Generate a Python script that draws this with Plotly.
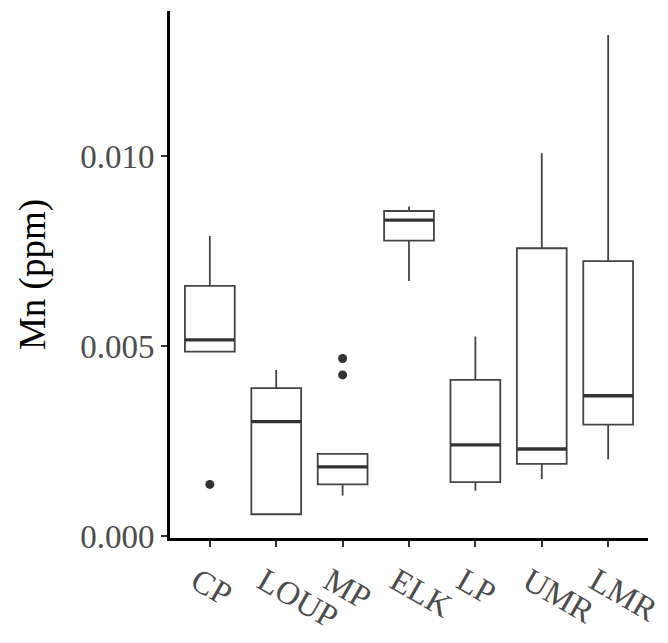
import plotly.graph_objects as go

# Mn concentration summaries per site (ppm)
sites = ["CP", "LOUP", "MP", "ELK", "LP", "UMR", "LMR"]
lower_whisker = [0.00486, 0.000585, 0.00108, 0.00672, 0.00120, 0.00151, 0.00203]
q1 = [0.00486, 0.000585, 0.00137, 0.00778, 0.00143, 0.00191, 0.00294]
median = [0.00517, 0.00302, 0.00183, 0.00832, 0.00241, 0.00230, 0.00370]
q3 = [0.00659, 0.00390, 0.00217, 0.00856, 0.00412, 0.00758, 0.00724]
upper_whisker = [0.00790, 0.00438, 0.00217, 0.00868, 0.00526, 0.01008, 0.01319]

# Outlying observations
outlier_site = ["CP", "MP", "MP"]
outlier_value = [0.00137, 0.00468, 0.00425]

BOX_W = 0.75
LINE = "#444444"
SERIF = "Liberation Serif, Times New Roman, serif"

fig = go.Figure()

for i, s in enumerate(sites):
    fig.add_trace(go.Box(
        x=[i], q1=[q1[i]], median=[median[i]], q3=[q3[i]],
        lowerfence=[lower_whisker[i]], upperfence=[upper_whisker[i]],
        width=BOX_W, whiskerwidth=0, boxpoints=False,
        fillcolor="white", line=dict(color=LINE, width=1.8),
        showlegend=False, hoverinfo="skip", name=s,
    ))

# Heavier median bars
mx, my = [], []
for i in range(len(sites)):
    mx += [i - BOX_W / 2, i + BOX_W / 2, None]
    my += [median[i], median[i], None]
fig.add_trace(go.Scatter(x=mx, y=my, mode="lines",
                         line=dict(color="#333333", width=3.4),
                         showlegend=False, hoverinfo="skip"))

fig.add_trace(go.Scatter(
    x=[sites.index(s) for s in outlier_site], y=outlier_value, mode="markers",
    marker=dict(color="#333333", size=9), showlegend=False, hoverinfo="skip"))

fig.update_layout(
    width=668, height=643,
    margin=dict(l=170, r=20, t=11, b=105),
    paper_bgcolor="white", plot_bgcolor="white",
    font=dict(family=SERIF, size=33, color="#4d4d4d"),
    xaxis=dict(
        range=[-0.6, 6.6], tickmode="array", tickvals=list(range(len(sites))),
        ticktext=sites, tickangle=30, showgrid=False, zeroline=False,
        showline=True, linecolor="black", linewidth=3,
        ticks="outside", ticklen=6, tickwidth=1.5, tickcolor="#333333",
        ticklabeloverflow="allow", automargin=False,
        ticklabelshift=-13, ticklabelstandoff=2,
        tickfont=dict(family=SERIF, size=33, color="#4d4d4d"),
    ),
    yaxis=dict(
        range=[-0.00004, 0.01382], tickvals=[0, 0.005, 0.010],
        tickformat=".3f", showgrid=False, zeroline=False,
        showline=True, linecolor="black", linewidth=3,
        ticks="outside", ticklen=6, tickwidth=1.5, tickcolor="#333333",
        automargin=False,
        tickfont=dict(family=SERIF, size=33, color="#4d4d4d"),
        title=dict(text="Mn (ppm)", standoff=24,
                   font=dict(family=SERIF, size=37, color="black")),
    ),
)

fig.write_html("out.html")
